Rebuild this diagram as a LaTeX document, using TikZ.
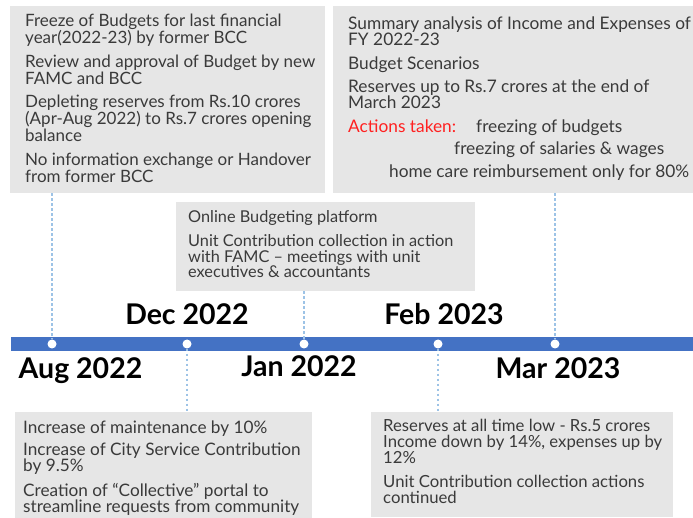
\documentclass[tikz,border=0pt]{standalone}
\usepackage{fontspec}
\setmainfont{Lato}
\newfontfamily\bodyfont{Lato}
\definecolor{boxgray}{HTML}{E6E6E6}
\definecolor{txtgray}{HTML}{3A3A3A}
\definecolor{barblue}{HTML}{4472C4}
\definecolor{dashblue}{HTML}{9DC3E6}
\definecolor{actred}{HTML}{FF2020}
\newcommand{\boxtext}[4]{\parbox[t]{#1}{\fontsize{#2}{#3}\selectfont #4}}
\tikzset{
  infobox/.style={fill=boxgray, draw=none, inner sep=0pt, anchor=north west},
  txt/.style={anchor=base west, inner sep=0pt, text=txtgray, align=left},
  datelbl/.style={anchor=base, inner sep=0pt, font=\fontsize{28.5}{30}\selectfont\bfseries, text=black},
  dot/.style={circle, fill=white, draw=none, minimum size=9pt, inner sep=0pt},
  link/.style={dashblue, line width=1.4pt, dash pattern=on 2.5pt off 2.5pt}
}
\begin{document}
\begin{tikzpicture}[x=1pt, y=-1pt]
\useasboundingbox (0,0) rectangle (693,518);
% boxes
\node[infobox, minimum width=315pt, minimum height=187pt] (boxA) at (10,6) {};
\node[infobox, minimum width=360pt, minimum height=187pt] (boxB) at (333,6) {};
\node[infobox, minimum width=299pt, minimum height=89pt] (boxC) at (176,202) {};
\node[infobox, minimum width=297pt, minimum height=106pt] (boxD) at (15,412) {};
\node[infobox, minimum width=302pt, minimum height=105pt] (boxE) at (371,412) {};
% texts
\node[txt] (tA) at (25,27) {\bodyfont\boxtext{300pt}{17}{17pt}{%
Freeze of Budgets for last financial\\
year(2022-23) by former BCC\\[6.5pt]
Review and approval of Budget by new\\
FAMC and BCC\\[6.5pt]
Depleting reserves from Rs.10 crores\\
(Apr-Aug 2022) to Rs.7 crores opening\\
balance\\[6.5pt]
No information exchange or Handover\\
from former BCC}};
\node[txt] (tB) at (348,30) {\bodyfont\boxtext{345pt}{17.3}{16pt}{%
Summary analysis of Income and Expenses of\\
FY 2022-23\\[8pt]
Budget Scenarios\\[7pt]
Reserves up to Rs.7 crores at the end of\\
March 2023}};
\node[txt, text=actred, font=\bodyfont\fontsize{17.3}{16}\selectfont] (tB1) at (348,133) {Actions taken:};
\node[txt, font=\bodyfont\fontsize{17.3}{16}\selectfont] (tB2) at (476,133) {freezing of budgets};
\node[txt, font=\bodyfont\fontsize{17.3}{16}\selectfont] (tB3) at (454,155) {freezing of salaries \& wages};
\node[txt, font=\bodyfont\fontsize{17.3}{16}\selectfont] (tB4) at (389,178) {home care reimbursement only for 80\%};
\node[txt] (tC) at (188,223) {\bodyfont\boxtext{290pt}{16.3}{15.5pt}{%
Online Budgeting platform\\[8.5pt]
Unit Contribution collection in action\\
with FAMC – meetings with unit\\
executives \& accountants}};
\node[txt] (tD) at (23,433) {\bodyfont\boxtext{292pt}{17.2}{16pt}{%
Increase of maintenance by 10\%\\[6pt]
Increase of City Service Contribution\\
by 9.5\%\\[8pt]
Creation of “Collective” portal to\\
streamline requests from community}};
\node[txt] (tE) at (383,431) {\bodyfont\boxtext{290pt}{16.7}{16pt}{%
Reserves at all time low - Rs.5 crores\\
Income down by 14\%, expenses up by\\
12\%\\[8pt]
Unit Contribution collection actions\\
continued}};
% timeline bar
\fill[barblue] (11,337) rectangle (693,351);
\node[dot] (aug) at (52,344) {};
\node[dot] (dec) at (187,344) {};
\node[dot] (jan) at (304,344) {};
\node[dot] (feb) at (438,344) {};
\node[dot] (mar) at (555,344) {};
% dashed connectors
\draw[link] (boxA.south -| aug) -- (aug);
\draw[link] (dec) -- (boxD.north -| dec);
\draw[link] (boxC.south -| jan) -- (jan);
\draw[link] (feb) -- (boxE.north -| feb);
\draw[link] (boxB.south -| mar) -- (mar);
% date labels
\node[datelbl] (lAug) at (80.5,378) {Aug 2022};
\node[datelbl] (lDec) at (187,325) {Dec 2022};
\node[datelbl] (lJan) at (299,377) {Jan 2022};
\node[datelbl] (lFeb) at (444,325) {Feb 2023};
\node[datelbl] (lMar) at (558,378) {Mar 2023};
\end{tikzpicture}
\end{document}
